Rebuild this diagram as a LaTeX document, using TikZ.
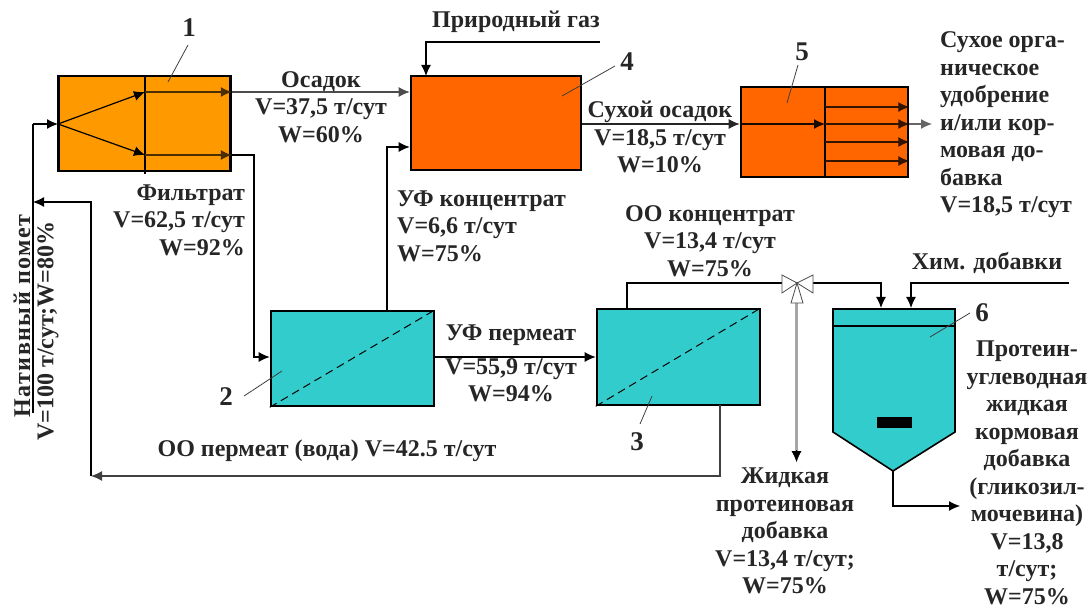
\documentclass[tikz,border=0pt]{standalone}
\usepackage{fontspec}
\setmainfont{Liberation Serif}
\usetikzlibrary{arrows.meta}
\definecolor{orangeA}{RGB}{255,153,0}
\definecolor{orangeB}{RGB}{255,102,0}
\definecolor{tealA}{RGB}{51,204,204}
\tikzset{
  box/.style={draw,line width=2.6pt,inner sep=0pt},
  pipe/.style={draw,line width=1.2pt,-{Latex[length=11pt,width=10pt]}},
  line/.style={draw,line width=1.2pt},
  lbl/.style={font=\bfseries\fontsize{24}{27.5}\selectfont,align=center,inner sep=0pt,text=black!85},
  num/.style={font=\bfseries\fontsize{27}{27}\selectfont,inner sep=0pt,text=black!85},
  lead/.style={draw,line width=.8pt,black!75}
}
\begin{document}
\begin{tikzpicture}
        [x=1pt,y=-1pt]
        \useasboundingbox (0,0) rectangle (1091,609);
        % apparatus
        \node[box,fill=orangeA,minimum width=172pt,minimum height=95pt] (n1) at (144.5,123.5) {};
        \node[box,fill=orangeB,minimum width=170pt,minimum height=94pt] (n4) at (496,123) {};
        \node[box,fill=orangeB,minimum width=167pt,minimum height=90pt] (n5) at (824.5,132) {};
        \node[box,fill=tealA,minimum width=163pt,minimum height=95pt] (n2) at (352.5,358.5) {};
        \node[box,fill=tealA,minimum width=163pt,minimum height=96pt] (n3) at (678.5,357) {};
        \draw[line width=1.6pt,fill=tealA] (833,309) -- (955,309) -- (955,432) -- (893,471) coordinate (apex) -- (833,432) -- cycle;
        \draw[line width=1.3pt] (833,326) -- (955,326);
        \fill (877,417) rectangle (912,428);
        % membranes and partitions
        \draw[line width=1pt,dash pattern=on 8pt off 5pt] (n2.south west) -- (n2.north east);
        \draw[line width=1pt,dash pattern=on 8pt off 5pt] (n3.south west) -- (n3.north east);
        \draw[line width=1.2pt] (145,76) -- (145,174);
        \draw[line width=1.2pt] (825,87) -- (825,177);
        % junctions
        \coordinate (j1) at (58,124);
        \coordinate (j2) at (145,92);
        \coordinate (j3) at (145,155);
        \coordinate (v) at (797,283);
        \foreach \from/\to in {j1/j2,j1/j3}
          \draw[pipe] (\from) -- (\to);
        \draw[pipe,black!70!orangeA] (j2) -- (n1.east |- j2);
        \draw[pipe,black!70!orangeA] (j3) -- (n1.east |- j3);
        \foreach \y in {107,124,142,161}
          \draw[pipe,black!80!orangeB] (825,\y) -- (n5.east |- 0,\y);
        \draw[pipe,black!90!orangeB] (n5.west |- 0,124) -- (825,124);
        % connectors
        \draw[line] (33,413) -- (33,124) coordinate (a);
        \draw[pipe] (a) -- (j1);
        \draw[pipe,black!70] (n1.east |- j2) -- (n4.west |- j2);
        \draw[pipe] (n1.east |- j3) -- (254,155) |- (n2.west |- 0,357);
        \draw[pipe] (387,311) |- (n4.west |- 0,147);
        \draw[pipe] (600,42) -| (426,76);
        \draw[pipe,black!85] (n4.east |- 0,124) -- (n5.west |- 0,124);
        \draw[pipe,black!60] (n5.east |- 0,124) -- (932,124);
        \draw[pipe] (n2.east |- 0,357) -- (n3.west |- 0,357);
        \draw[pipe,black!75] (720,405) |- (91,476);
        \draw[pipe] (91,476) -- (91,202) -- (33,202);
        \draw[line] (627,309) |- (v);
        \draw[pipe] (v) -| (881,308);
        \draw[pipe] (1069,283) -| (911,308);
        \draw[pipe] (apex) |- (960,506);
        \draw[line width=2.6pt,black!35] (796.5,296) -- (796.5,452);
        \draw[pipe,line width=.4pt] (796.5,450) -- (796.5,462);
        % valve
        \draw[line width=.8pt,fill=white,draw=black!70] (v) -- (782,275) -- (782,293) -- cycle;
        \draw[line width=.8pt,fill=white,draw=black!70] (v) -- (813,275) -- (813,293) -- cycle;
        \draw[line width=.8pt,fill=white,draw=black!70] (v) -- (791,303) -- (803,303) -- cycle;
        % leaders
        \draw[lead] (188,45) -- (168,82);
        \draw[lead] (244,396) -- (282,371);
        \draw[lead] (615,66) -- (562,96);
        \draw[lead] (798,65) -- (787,103);
        \draw[lead] (640,424) -- (652,396);
        \draw[lead] (970,313) -- (930,337);
        % numbers
        \node[num] (l1) at (189,28) {1};
        \node[num] (l2) at (226,397) {2};
        \node[num] (l3) at (637,442) {3};
        \node[num] (l4) at (627,62) {4};
        \node[num] (l5) at (802,52) {5};
        \node[num] (l6) at (982,313) {6};
        % labels
        \node[lbl] (t1) at (321,107) {Осадок\\V=37,5 т/сут\\W=60\%};
        \node[lbl,align=right,anchor=east] (t2) at (245,220) {Фильтрат\\V=62,5 т/сут\\W=92\%};
        \node[lbl,anchor=west,align=left] (t3) at (397,226) {УФ концентрат\\V=6,6 т/сут\\W=75\%};
        \node[lbl] (t4) at (516,22) {Природный газ};
        \node[lbl] (t5) at (660,137) {Сухой осадок\\V=18,5 т/сут\\W=10\%};
        \node[lbl,anchor=west,align=left] (t6) at (940,125) {Сухое орга-\\ническое\\удобрение\\и/или кор-\\мовая до-\\бавка\\V=18,5 т/сут};
        \node[lbl] (t7) at (710,241) {ОО концентрат\\V=13,4 т/сут\\W=75\%};
        \node[lbl] (t8) at (987,263) {Хим. добавки};
        \node[lbl] (t9) at (511,335) {УФ пермеат};
        \node[lbl] (t10) at (511,380) {V=55,9 т/сут\\W=94\%};
        \node[lbl] (t11) at (327,451) {ОО пермеат (вода) V=42.5 т/сут};
        \node[lbl] (t12) at (785,531) {Жидкая\\протеиновая\\добавка\\V=13,4 т/сут;\\W=75\%};
        \node[lbl] (t13) at (1027,473) {Протеин-\\углеводная\\жидкая\\кормовая\\добавка\\(гликозил-\\мочевина)\\V=13,8\\т/сут;\\W=75\%};
        \node[lbl,rotate=90] (t14) at (22,316) {\addfontfeature{LetterSpace=6}Нативный помет};
        \node[lbl,rotate=90] (t15) at (48,331) {V=100 т/сут;W=80\%};
      \end{tikzpicture}
\end{document}
